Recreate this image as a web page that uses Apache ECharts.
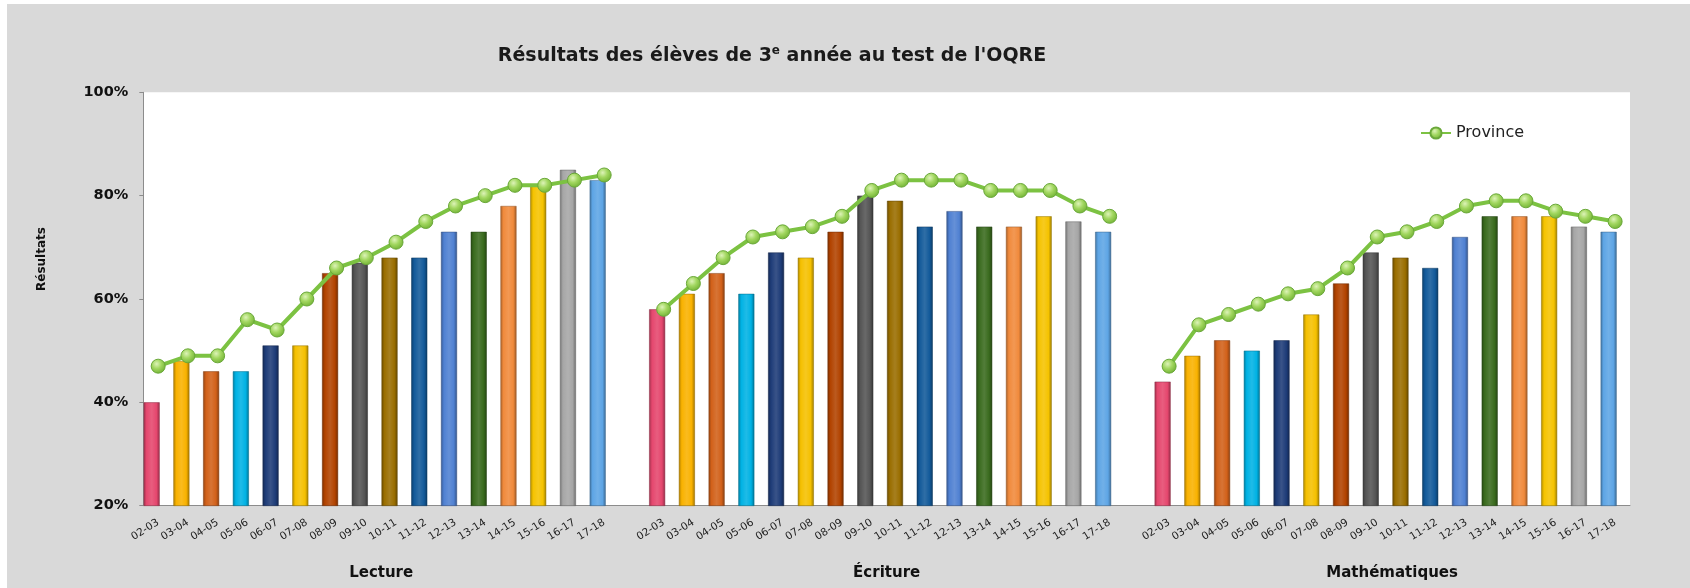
<!DOCTYPE html>
<html>
<head>
<meta charset="utf-8">
<script src="https://cdn.jsdelivr.net/npm/echarts@6/dist/echarts.min.js"></script>
<style>
  html, body { margin: 0; padding: 0; background: #fff; }
  #chart { position: absolute; left: 7px; top: 4px; width: 1683px; height: 584px; }
</style>
</head>
<body>
<div id="chart"></div>
<script>
// school years, one bar per year in each subject block
const years = ['02-03', '03-04', '04-05', '05-06', '06-07', '07-08', '08-09', '09-10',
               '10-11', '11-12', '12-13', '13-14', '14-15', '15-16', '16-17', '17-18'];
const subjects = ['Lecture', 'Écriture', 'Mathématiques'];

// board results (bars) and province results (line), in %
const lectureBars      = [40, 48, 46, 46, 51, 51, 65, 67, 68, 68, 73, 73, 78, 82, 85, 83];
const lectureProvince  = [47, 49, 49, 56, 54, 60, 66, 68, 71, 75, 78, 80, 82, 82, 83, 84];
const ecritureBars     = [58, 61, 65, 61, 69, 68, 73, 80, 79, 74, 77, 74, 74, 76, 75, 73];
const ecritureProvince = [58, 63, 68, 72, 73, 74, 76, 81, 83, 83, 83, 81, 81, 81, 78, 76];
const mathBars         = [44, 49, 52, 50, 52, 57, 63, 69, 68, 66, 72, 76, 76, 76, 74, 73];
const mathProvince     = [47, 55, 57, 59, 61, 62, 66, 72, 73, 75, 78, 79, 79, 77, 76, 75];

const yTicks = [20, 40, 60, 80, 100];
const titleText = "Résultats des élèves de 3{sup|e} année au test de l'OQRE";

// one colour per school year
const yearColors = ['#E5476E', '#F9B200', '#D2611A', '#00B2E4', '#1E3C78', '#F5C000',
                    '#B24300', '#555555', '#9A6E00', '#135A9A', '#5081D2', '#3A6B1E',
                    '#F08A3C', '#F5C300', '#A6A6A6', '#5EA5E5'];

function shade(hex, f) {
    const n = parseInt(hex.slice(1), 16);
    let r = n >> 16, g = (n >> 8) & 255, b = n & 255;
    const t = f < 0 ? 0 : 255, p = Math.abs(f);
    r = Math.round((t - r) * p + r);
    g = Math.round((t - g) * p + g);
    b = Math.round((t - b) * p + b);
    return 'rgb(' + r + ',' + g + ',' + b + ')';
}

function barStyle(c) {
    return {
        color: {
            type: 'linear', x: 0, y: 0, x2: 1, y2: 0,
            colorStops: [
                { offset: 0, color: shade(c, -0.3) },
                { offset: 0.18, color: c },
                { offset: 0.5, color: shade(c, 0.12) },
                { offset: 0.8, color: c },
                { offset: 1, color: shade(c, -0.35) }
            ]
        },
        borderColor: shade(c, -0.4),
        borderWidth: 0.5
    };
}

// build the 50 slots: 16 years, one empty slot, 16 years, one empty slot, 16 years
const categories = [];
const barData = [];
const lineData = [];
const blocks = [[lectureBars, lectureProvince], [ecritureBars, ecritureProvince], [mathBars, mathProvince]];
blocks.forEach(function (b, k) {
    if (k > 0) {
        categories.push('');
        barData.push('-');
        lineData.push('-');
    }
    years.forEach(function (y, i) {
        categories.push(y);
        barData.push({ value: b[0][i], itemStyle: barStyle(yearColors[i]) });
        lineData.push(b[1][i]);
    });
});
const subjectPos = { 8: subjects[0], 25: subjects[1], 42: subjects[2] };

const chart = echarts.init(document.getElementById('chart'));
chart.setOption({
    backgroundColor: '#D9D9D9',
    textStyle: { fontFamily: 'DejaVu Sans' },
    animation: false,
    title: {
        text: titleText,
        left: 760,
        top: 36,
        textAlign: 'center',
        textStyle: {
            fontFamily: 'DejaVu Sans', fontWeight: 'bold', fontSize: 19, color: '#1a1a1a',
            rich: { sup: { fontSize: 12, fontWeight: 'bold', color: '#1a1a1a', padding: [0, 0, 10, 0] } }
        }
    },
    legend: {
        data: ['Province'],
        left: 1408,
        top: 116,
        itemWidth: 30,
        itemHeight: 14,
        textStyle: { fontSize: 16, color: '#222', fontFamily: 'DejaVu Sans' }
    },
    grid: {
        left: 136.3, right: 60, top: 88.3, bottom: 82.3,
        show: true, backgroundColor: '#fff', borderWidth: 0
    },
    xAxis: [{
        type: 'category',
        data: categories,
        axisLine: { lineStyle: { color: '#8c8c8c' } },
        axisTick: { length: 4, lineStyle: { color: '#8c8c8c' } },
        axisLabel: { interval: 0, rotate: 32, fontSize: 10.5, color: '#222', margin: 16 }
    }, {
        type: 'value',
        min: 0, max: 50, interval: 1,
        position: 'bottom',
        axisLine: { show: false },
        axisTick: { show: false },
        splitLine: { show: false },
        axisLabel: {
            margin: 60, fontSize: 15, fontWeight: 'bold', color: '#111',
            formatter: function (v) { return subjectPos[v] || ''; }
        }
    }],
    yAxis: {
        type: 'value',
        min: yTicks[0], max: yTicks[yTicks.length - 1], interval: 20,
        name: 'Résultats',
        nameLocation: 'middle',
        nameGap: 95,
        nameRotate: 90,
        nameTextStyle: { fontSize: 12, fontWeight: 'bold', color: '#111', padding: [0, 0, 0, 80] },
        axisLine: { show: true, lineStyle: { color: '#8c8c8c' } },
        axisTick: { show: true, length: 4, lineStyle: { color: '#8c8c8c' } },
        splitLine: { show: false },
        axisLabel: {
            fontSize: 14.5, fontWeight: 'bold', color: '#111', margin: 15,
            formatter: function (v) { return v + '%'; }
        }
    },
    series: [{
        name: 'Résultats',
        type: 'bar',
        data: barData,
        barWidth: 16,
        barGap: '0%'
    }, {
        // empty companion series: pushes the bars to the left of each slot
        name: 'spacer',
        type: 'bar',
        data: categories.map(function () { return '-'; }),
        barWidth: 13
    }, {
        name: 'Province',
        type: 'line',
        data: lineData,
        z: 5,
        symbol: 'circle',
        symbolSize: 14,
        lineStyle: { color: '#7CC242', width: 4 },
        itemStyle: {
            color: {
                type: 'radial', x: 0.4, y: 0.35, r: 0.7,
                colorStops: [
                    { offset: 0, color: '#DDF3B8' },
                    { offset: 0.45, color: '#A2D760' },
                    { offset: 1, color: '#6DAE30' }
                ]
            },
            borderColor: '#6AA83A',
            borderWidth: 1
        }
    }]
});
</script>
</body>
</html>
